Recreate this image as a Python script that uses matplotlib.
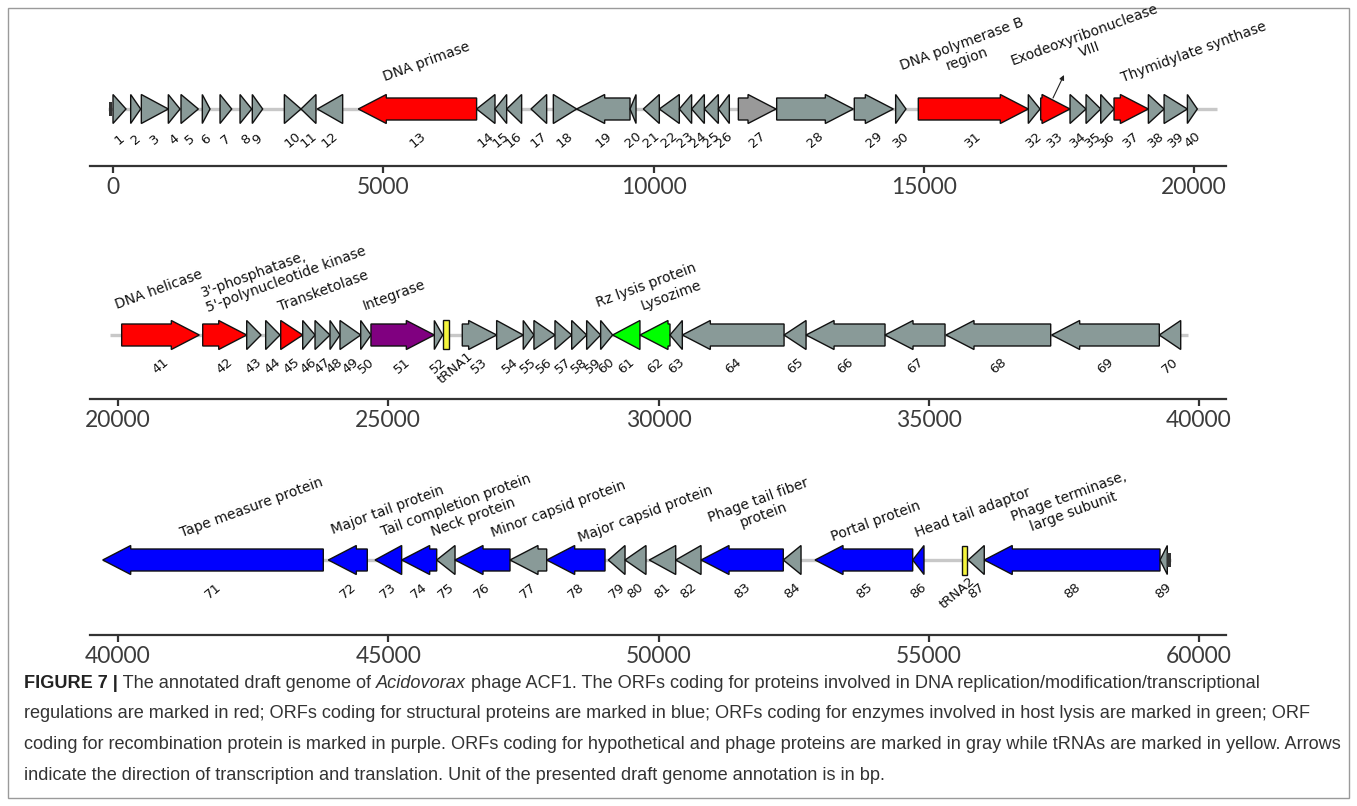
import numpy as np
import matplotlib.pyplot as plt
from matplotlib.patches import Polygon, Rectangle
from matplotlib import font_manager

# ---- ORF table (positions in bp, strand +1 / -1) ----
orf_start = [0, 327, 524, 1023, 1258, 1652, 1980, 2350, 2577, 3170,
             3478, 3780, 4538, 6727, 7067, 7283, 7733, 8146, 8578, 9565,
             9811, 10107, 10477, 10705, 10940, 11199, 11569, 12278, 13714, 14479,
             14898, 16933, 17162, 17705, 18001, 18273, 18519, 19154, 19445, 19876,
             20068, 21567, 22381, 22732, 23010, 23417, 23645, 23922, 24107, 24490,
             24680, 25852, 26369, 27005, 27497, 27695, 28084, 28393, 28670, 28929,
             29151, 29657, 30212, 30440, 32322, 32729, 34190, 35318, 37273, 39264,
             39717, 43891, 44755, 45248, 45896, 46235, 47252, 47931, 49071, 49380,
             49829, 50318, 50786, 52308, 52895, 54702, 55730, 56026, 59277]
orf_end = [240, 512, 1023, 1240, 1579, 1795, 2196, 2566, 2769, 3478,
           3755, 4249, 6727, 7067, 7283, 7560, 8023, 8578, 9565, 9676,
           10107, 10477, 10705, 10940, 11199, 11402, 12266, 13696, 14436, 14670,
           16933, 17150, 17705, 18001, 18273, 18519, 19154, 19445, 19876, 20060,
           21504, 22381, 22646, 22997, 23417, 23645, 23922, 24107, 24490, 24680,
           25852, 26006, 27005, 27497, 27695, 28084, 28393, 28670, 28929, 29151,
           29656, 30212, 30440, 32322, 32729, 34190, 35300, 37255, 39264, 39660,
           43798, 44612, 45248, 45896, 46235, 47252, 47931, 49010, 49380, 49768,
           50318, 50786, 52308, 52636, 54702, 54911, 56026, 59277, 59412]
orf_strand = [1] * 10 + [-1] * 7 + [1, -1, -1] + [-1] * 6 + [1] * 14 \
    + [1] * 20 + [-1] * 10 + [-1] * 19

# functional class of each ORF (everything not listed is hypothetical)
red_orfs = [13, 31, 33, 37, 41, 42, 45]               # replication / modification
blue_orfs = [71, 72, 73, 74, 76, 78, 83, 85, 86, 88]  # structural
green_orfs = [61, 62]                                 # lysis
purple_orfs = [51]                                    # recombination
lightgray_orfs = [27]

trna_names = ['tRNA1', 'tRNA2']
trna_start = [26018, 55608]
trna_end = [26124, 55712]
trna_row = [1, 2]

# ORF numbers per row, tick start per row, backbone line per row
row_orfs = [(1, 40), (41, 70), (71, 89)]
row_tick0 = [0, 20000, 40000]
row_backbone = [(-92, 20417), (19852, 39796), (39717, 59475)]
end_marks = [(0, -68, -18), (2, 59412, 59475)]

ann_text = ["DNA primase", "DNA polymerase B\nregion", "Exodeoxyribonuclease\nVIII",
            "Thymidylate synthase", "DNA helicase",
            "3'-phosphatase,\n5'-polynucleotide kinase", "Transketolase", "Integrase",
            "Rz lysis protein", "Lysozime", "Tape measure protein", "Major tail protein",
            "Tail completion protein", "Neck protein", "Minor capsid protein",
            "Major capsid protein", "Phage tail fiber\nprotein", "Portal protein",
            "Head tail adaptor", "Phage terminase,\nlarge subunit"]
ann_row = [0, 0, 0, 0, 1, 1, 1, 1, 1, 1, 2, 2, 2, 2, 2, 2, 2, 2, 2, 2]

# ---- layout (pixels of the 1357x806 canvas) ----
W, H = 1357, 806
AX_L, AX_R = 90, 1226
BP_PER_PX = 18.5
row_zero_px = [113, 118, 118]
row_spine = [166, 399, 635]
row_mid = [109, 335, 560]
row_top = [15, 240, 450]
HEAD_PX, HEAD_H, BODY_H = 28, 14.5, 11
trna_label_dx = [9, -7]

# bottom-left corner of each rotated label box
ann_bl = [(381, 84), (898, 88), (1009, 83), (1119, 85),
          (113, 312), (199, 315), (276, 314), (361, 313), (594, 310), (639, 313),
          (178, 540), (329, 537), (379, 539), (429, 539), (489, 540), (576, 545),
          (706, 540), (829, 544), (913, 540), (1009, 539)]
ann_align = ['center'] * 20
ann_align[5] = 'left'

colors = {'red': '#ff0000', 'blue': '#0000ff', 'green': '#00ff00',
          'purple': '#800080', 'gray': '#899a98', 'lgray': '#999999'}


def orf_color(n):
    if n in red_orfs:
        return colors['red']
    if n in blue_orfs:
        return colors['blue']
    if n in green_orfs:
        return colors['green']
    if n in purple_orfs:
        return colors['purple']
    if n in lightgray_orfs:
        return colors['lgray']
    return colors['gray']


def arrow_pts(start, end, strand, yc):
    head = HEAD_PX * BP_PER_PX
    length = end - start
    if length <= head:
        if strand > 0:
            return [(start, yc - HEAD_H), (end, yc), (start, yc + HEAD_H)]
        return [(end, yc - HEAD_H), (start, yc), (end, yc + HEAD_H)]
    if strand > 0:
        b = end - head
        return [(start, yc - BODY_H), (b, yc - BODY_H), (b, yc - HEAD_H), (end, yc),
                (b, yc + HEAD_H), (b, yc + BODY_H), (start, yc + BODY_H)]
    b = start + head
    return [(end, yc - BODY_H), (b, yc - BODY_H), (b, yc - HEAD_H), (start, yc),
            (b, yc + HEAD_H), (b, yc + BODY_H), (end, yc + BODY_H)]


def row_xmin(r):
    return row_tick0[r] - (row_zero_px[r] - AX_L) * BP_PER_PX


fonts = {f.name for f in font_manager.fontManager.ttflist}
tick_family = 'Lato' if 'Lato' in fonts else 'DejaVu Sans'
cap_family, cap_size = 'Liberation Sans', 13.1

fig = plt.figure(figsize=(W / 100, H / 100), dpi=100)

# background: frame + caption
bg = fig.add_axes([0, 0, 1, 1])
bg.set_xlim(0, W)
bg.set_ylim(H, 0)
bg.set_axis_off()
bg.add_patch(Rectangle((8, 8), W - 16, H - 16, fill=False, ec='#9a9a9a', lw=1))

axes = []
for r in range(3):
    h = row_spine[r] - row_top[r]
    ax = fig.add_axes([AX_L / W, 1 - row_spine[r] / H, (AX_R - AX_L) / W, h / H])
    ax.patch.set_alpha(0)
    xmin = row_xmin(r)
    ax.set_xlim(xmin, xmin + (AX_R - AX_L) * BP_PER_PX)
    ax.set_ylim(0, h)
    for s in ['top', 'left', 'right']:
        ax.spines[s].set_visible(False)
    ax.spines['bottom'].set_color('#333333')
    ax.spines['bottom'].set_linewidth(1.6)
    ax.set_yticks([])
    ticks = np.arange(row_tick0[r], row_tick0[r] + 20001, 5000)
    ax.set_xticks(ticks)
    ax.set_xticklabels([str(t) for t in ticks], family=tick_family,
                       fontsize=16.5, color='#3c3c3c')
    ax.tick_params(axis='x', direction='out', length=5, width=1.6, color='#333333', pad=3)

    yc = row_spine[r] - row_mid[r]
    a, b = row_backbone[r]
    ax.plot([a, b], [yc, yc], color='#c8c8c8', lw=2.4, solid_capstyle='butt', zorder=1)

    first, last = row_orfs[r]
    for n in range(first, last + 1):
        s, e, st = orf_start[n - 1], orf_end[n - 1], orf_strand[n - 1]
        ax.add_patch(Polygon(arrow_pts(s, e, st, yc), closed=True, fc=orf_color(n),
                             ec='#111111', lw=1.0, joinstyle='miter', zorder=3))
        ax.text((s + e) / 2, yc - 31, str(n), rotation=40, ha='center', va='center',
                fontsize=9.5, color='#111111')
    axes.append(ax)

# tRNAs
for name, s, e, r, dx in zip(trna_names, trna_start, trna_end, trna_row, trna_label_dx):
    yc = row_spine[r] - row_mid[r]
    axes[r].add_patch(Rectangle((s, yc - HEAD_H), e - s, 2 * HEAD_H, fc='#f5f53d',
                                ec='#111111', lw=1.0, zorder=3))
    axes[r].text((s + e) / 2 + dx * BP_PER_PX, yc - 33, name, rotation=40, ha='center',
                 va='center', fontsize=9.5, color='#111111')

for r, s, e in end_marks:
    yc = row_spine[r] - row_mid[r]
    axes[r].add_patch(Rectangle((s, yc - 7), e - s, 14, fc='#333333', ec='none', zorder=3))

# gene annotations
for txt, r, (px, py), al in zip(ann_text, ann_row, ann_bl, ann_align):
    x = row_xmin(r) + (px - AX_L) * BP_PER_PX
    y = row_spine[r] - py
    axes[r].text(x, y, txt, rotation=20, ha='left', va='bottom', multialignment=al,
                 fontsize=10, color='#111111', linespacing=1.15)

# pointer for Exodeoxyribonuclease VIII
axes[0].annotate('', xy=(row_xmin(0) + (1064 - AX_L) * BP_PER_PX, 166 - 75),
                 xytext=(row_xmin(0) + (1053 - AX_L) * BP_PER_PX, 166 - 98),
                 arrowprops=dict(arrowstyle='-|>', color='#222222', lw=0.8,
                                 mutation_scale=7, shrinkA=0, shrinkB=0))

# caption
cap_lines = [
    [("FIGURE 7 |", 'b'), (" The annotated draft genome of ", 'n'), ("Acidovorax", 'i'),
     (" phage ACF1. The ORFs coding for proteins involved in DNA replication/modification/transcriptional", 'n')],
    [("regulations are marked in red; ORFs coding for structural proteins are marked in blue; "
      "ORFs coding for enzymes involved in host lysis are marked in green; ORF", 'n')],
    [("coding for recombination protein is marked in purple. ORFs coding for hypothetical and "
      "phage proteins are marked in gray while tRNAs are marked in yellow. Arrows", 'n')],
    [("indicate the direction of transcription and translation. Unit of the presented draft "
      "genome annotation is in bp.", 'n')],
]
cap_base = [688, 718, 749, 780]
for parts, yb in zip(cap_lines, cap_base):
    prev = None
    for txt, sty in parts:
        kw = dict(fontsize=cap_size, family=cap_family, color='#333333')
        if sty == 'b':
            kw.update(fontweight='bold', color='#222222')
        if sty == 'i':
            kw.update(fontstyle='italic')
        if prev is None:
            prev = bg.text(24, yb, txt, ha='left', va='baseline', **kw)
        else:
            prev = bg.annotate(txt, xy=(1, 0), xycoords=prev, ha='left', va='bottom', **kw)

fig.savefig('out.png', dpi=100)
